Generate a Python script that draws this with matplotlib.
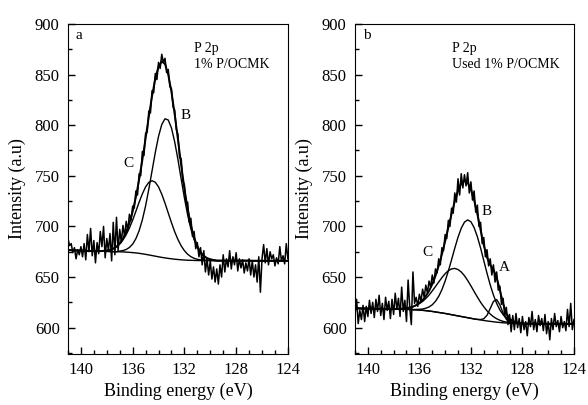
import matplotlib.pyplot as plt
import numpy as np
from matplotlib.ticker import MultipleLocator

plt.rcParams['font.family'] = ['Liberation Serif', 'DejaVu Serif']

# binding energy axes (eV): fitted curves every 0.25 eV, measured spectrum every 0.125 eV
fit_e = np.linspace(141.0, 124.0, 69)
raw_e = np.linspace(141.0, 124.0, 137)

# ---- panel a : fresh 1% P/OCMK ----
raw_a = [688, 681, 683, 674, 679, 668, 677, 672, 680, 670,
         683, 667, 692, 675, 698, 671, 686, 664, 684, 673,
         695, 680, 700, 669, 688, 676, 693, 666, 704, 672,
         709, 676, 697, 684, 701, 690, 705, 696, 712, 706,
         720, 718, 735, 731, 752, 750, 774, 770, 792, 793,
         814, 812, 834, 832, 851, 845, 862, 856, 870, 862,
         866, 852, 855, 838, 836, 818, 815, 796, 791, 768,
         767, 745, 741, 722, 724, 704, 708, 690, 695, 678,
         684, 670, 679, 662, 676, 655, 668, 652, 666, 648,
         660, 645, 658, 643, 662, 650, 672, 655, 668, 660,
         676, 658, 670, 662, 674, 656, 668, 659, 667, 654,
         664, 656, 668, 652, 666, 650, 662, 645, 670, 635,
         668, 682, 664, 678, 662, 675, 668, 672, 661, 669,
         663, 680, 666, 671, 663, 683, 668]
bg_a = [676.5, 676.4, 676.3, 676.2, 676.1, 676.0, 675.9, 675.8, 675.7, 675.6,
        675.5, 675.4, 675.3, 675.2, 675.1, 675.0, 674.9, 674.8, 674.6, 674.4,
        674.1, 673.8, 673.4, 672.9, 672.4, 671.8, 671.2, 670.6, 670.0, 669.4,
        668.9, 668.4, 668.0, 667.6, 667.3, 667.0, 666.8, 666.6, 666.5, 666.4,
        666.3, 666.3, 666.3, 666.3, 666.3, 666.2, 666.2, 666.2, 666.2, 666.2,
        666.2, 666.2, 666.2, 666.2, 666.2, 666.2, 666.2, 666.1, 666.1, 666.1,
        666.1, 666.1, 666.1, 666.1, 666.1, 666.1, 666.1, 666.1, 666.1]
peak_b_a = [0] * 16 + [0.7, 1.3, 2.6, 4.8, 8.4, 14.1, 22.3, 33.6, 47.9, 65.0,
                       83.7, 102.4, 118.9, 131.2, 137.4, 136.7, 129.2, 115.9, 98.8, 79.9,
                       61.4, 44.8, 31.0, 20.4, 12.8, 7.6, 4.3, 2.3, 1.2, 0.6] + [0] * 23
peak_c_a = [0] * 11 + [0.5, 0.9, 1.7, 2.9, 4.9, 7.7, 11.8, 17.2, 24.0, 32.1,
                       41.1, 50.5, 59.2, 66.6, 71.7, 73.9, 73.0, 69.0, 62.4, 54.1,
                       44.9, 35.7, 27.1, 19.8, 13.8, 9.2, 5.9, 3.6, 2.1, 1.2,
                       0.6, 0.3] + [0] * 26

# ---- panel b : used 1% P/OCMK ----
raw_b = [612, 628, 604, 617, 608, 622, 606, 621, 611, 627,
         614, 625, 610, 628, 616, 632, 612, 624, 608, 630,
         617, 626, 609, 628, 613, 634, 618, 629, 611, 640,
         616, 627, 606, 647, 620, 603, 655, 624, 630, 621,
         633, 626, 638, 630, 642, 634, 646, 640, 652, 644,
         658, 654, 668, 662, 679, 676, 692, 688, 706, 700,
         718, 713, 733, 724, 747, 731, 752, 738, 751, 740,
         753, 733, 744, 726, 735, 714, 721, 700, 704, 683,
         689, 670, 677, 661, 668, 652, 662, 645, 655, 637,
         641, 623, 629, 611, 620, 603, 613, 596, 612, 598,
         614, 600, 609, 595, 611, 598, 606, 592, 610, 601,
         616, 598, 608, 596, 612, 602, 609, 597, 613, 594,
         606, 588, 609, 598, 614, 601, 607, 596, 611, 600,
         606, 597, 618, 601, 624, 598, 608]
bg_b = [619.0, 619.0, 618.9, 618.9, 618.8, 618.8, 618.7, 618.7, 618.6, 618.6,
        618.5, 618.5, 618.4, 618.4, 618.3, 618.2, 618.1, 618.0, 617.8, 617.6,
        617.4, 617.1, 616.8, 616.4, 616.0, 615.5, 615.0, 614.5, 614.0, 613.4,
        612.8, 612.2, 611.6, 611.0, 610.4, 609.8, 609.2, 608.6, 608.1, 607.6,
        607.1, 606.6, 606.2, 605.8, 605.4, 605.1, 604.8, 604.6, 604.4, 604.3,
        604.2, 604.1, 604.0, 604.0, 604.0, 604.0, 604.0, 603.9, 603.9, 603.9,
        603.9, 603.9, 603.9, 603.8, 603.8, 603.8, 603.8, 603.8, 603.8]
peak_b_b = [0] * 19 + [0.4, 0.7, 1.3, 2.4, 4.0, 6.6, 10.5, 15.9, 23.0, 32.0,
                       42.6, 54.3, 66.4, 77.7, 87.2, 93.8, 96.6, 95.4, 90.2, 81.8,
                       71.1, 59.1, 47.2, 36.0, 26.4, 18.5, 12.4, 8.0, 5.0, 2.9,
                       1.7, 0.9, 0.5] + [0] * 17
peak_c_b = [0] * 12 + [0.1, 0.2, 0.4, 0.7, 1.2, 1.9, 2.9, 4.3, 6.3, 8.8,
                       12.0, 15.8, 20.3, 25.1, 30.1, 34.9, 39.3, 42.9, 45.2, 46.3,
                       45.8, 44.0, 40.9, 36.8, 32.1, 27.1, 22.2, 17.5, 13.5, 10.0,
                       7.2, 5.0, 3.4, 2.2, 1.4, 0.9, 0.5, 0.3, 0.2] + [0] * 18
peak_a_b = [0] * 38 + [0.1, 0.4, 1.7, 5.6, 12.7, 20.1, 22.3, 17.4, 9.5, 3.7,
                       1.0, 0.2] + [0] * 19


def draw_panel(ax, raw, bg, peaks, letter, sample, text_x, peak_labels):
    bg = np.array(bg)
    total = bg.copy()
    ax.plot(fit_e, bg, color='k', lw=1.0)
    for p in peaks:
        p = np.array(p)
        ax.plot(fit_e, bg + p, color='k', lw=1.0)
        total = total + p
    ax.plot(fit_e, total, color='k', lw=1.4)
    ax.plot(raw_e, raw, color='k', lw=1.1)

    ax.set_xlim(141, 124)
    ax.set_ylim(574, 900)
    ax.xaxis.set_major_locator(MultipleLocator(4))
    ax.xaxis.set_minor_locator(MultipleLocator(1))
    ax.yaxis.set_major_locator(MultipleLocator(50))
    ax.yaxis.set_minor_locator(MultipleLocator(25))
    ax.tick_params(which='both', direction='in', top=False, right=False,
                   labelsize=12, pad=6)
    ax.tick_params(which='major', length=5, width=1)
    ax.tick_params(which='minor', length=3, width=1)
    ax.set_xlabel('Binding energy (eV)', fontsize=13, labelpad=3)
    ax.set_ylabel('Intensity (a.u)', fontsize=13, labelpad=6)

    ax.text(0.035, 0.985, letter, transform=ax.transAxes, fontsize=11, va='top')
    ax.text(text_x, 0.945, 'P 2p', transform=ax.transAxes, fontsize=10, va='top')
    ax.text(text_x, 0.898, sample, transform=ax.transAxes, fontsize=10, va='top')
    for name, x, y in peak_labels:
        ax.text(x, y, name, fontsize=11, ha='center', va='center')


fig = plt.figure(figsize=(5.88, 4.05), dpi=100)
ax_a = fig.add_axes([0.1156, 0.126, 0.374, 0.815])
ax_b = fig.add_axes([0.6037, 0.126, 0.3724, 0.815])

draw_panel(ax_a, raw_a, bg_a, [peak_b_a, peak_c_a], 'a', '1% P/OCMK', 0.575,
           [('B', 131.9, 810), ('C', 136.3, 762)])
draw_panel(ax_b, raw_b, bg_b, [peak_b_b, peak_c_b, peak_a_b], 'b', 'Used 1% P/OCMK', 0.445,
           [('B', 130.8, 715), ('C', 135.4, 674), ('A', 129.4, 659)])

fig.savefig('out.png', dpi=100)
